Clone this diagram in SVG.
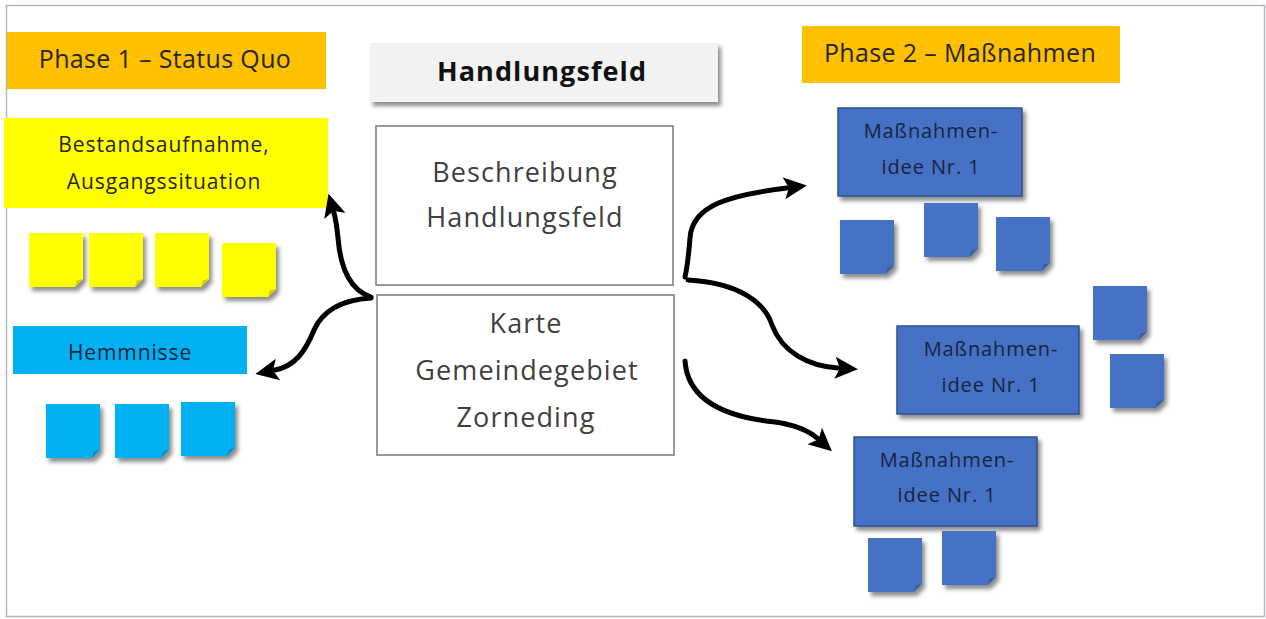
<svg xmlns="http://www.w3.org/2000/svg" width="1266" height="619" viewBox="0 0 1266 619">
<style>
text{font-family:"Open Sans","Liberation Sans",sans-serif;text-anchor:middle}
.phase{fill:#FFC000}
.phase-t{font-size:25px;fill:#262626;letter-spacing:0.35px}
.sy{fill:#FFFF00}
.sc{fill:#00B0F0}
.sb{fill:#4472C4}
.fd{fill:#000;fill-opacity:0.18}
.wbox{fill:#fff;stroke:#808080;stroke-width:1.6}
.wt{font-size:27px;fill:#404040;letter-spacing:1.1px}
.mbox{fill:#4472C4;stroke:#2F528F;stroke-width:1.5}
.mt{font-size:20px;fill:#1a2340;letter-spacing:0.9px}
.st-t{font-size:21px;fill:#262626;letter-spacing:0.9px}
.conn{fill:none;stroke:#000;stroke-width:5;stroke-linecap:round;stroke-linejoin:round}
</style>
<defs>
<filter id="sh" x="-20%" y="-20%" width="150%" height="160%">
<feDropShadow dx="3" dy="4" stdDeviation="2" flood-color="#000" flood-opacity="0.45"/>
</filter>
<marker id="ah" markerUnits="userSpaceOnUse" markerWidth="24" markerHeight="24" viewBox="0 0 24 24" refX="3" refY="12" orient="auto">
<path d="M0 1L23 12L0 23L5 12Z" fill="#000"/>
</marker>
<path id="st" d="M0 0H54V46L46 54H0Z"/>
<path id="fold" d="M54 46L46 54L47.5 47.5Z"/>
</defs>
<rect x="6.5" y="5.5" width="1258" height="611" fill="#fff" stroke="#AEB6C2" stroke-width="1.5"/>

<g id="phase1">
<rect class="phase" x="7" y="32" width="319" height="57"/>
<text class="phase-t" x="165" y="68">Phase 1 – Status Quo</text>
</g>

<g id="bestand">
<rect class="sy" x="4" y="118" width="324" height="90"/>
<text class="st-t" x="164" y="152">Bestandsaufnahme,</text>
<text class="st-t" x="164" y="189">Ausgangssituation</text>
</g>

<g id="yellow-notes" class="sy" filter="url(#sh)">
<g id="y1"><use href="#st" x="29" y="233"/><use href="#fold" class="fd" x="29" y="233"/></g>
<g id="y2"><use href="#st" x="89" y="233"/><use href="#fold" class="fd" x="89" y="233"/></g>
<g id="y3"><use href="#st" x="155" y="233"/><use href="#fold" class="fd" x="155" y="233"/></g>
<g id="y4"><use href="#st" x="222" y="243"/><use href="#fold" class="fd" x="222" y="243"/></g>
</g>

<g id="hemmnisse">
<rect class="sc" x="13" y="326" width="234" height="48"/>
<text class="st-t" x="130" y="360" style="fill:#10243E">Hemmnisse</text>
</g>

<g id="cyan-notes" class="sc" filter="url(#sh)">
<g id="c1"><use href="#st" x="46" y="404"/><use href="#fold" class="fd" x="46" y="404"/></g>
<g id="c2"><use href="#st" x="115" y="404"/><use href="#fold" class="fd" x="115" y="404"/></g>
<g id="c3"><use href="#st" x="181" y="402"/><use href="#fold" class="fd" x="181" y="402"/></g>
</g>

<g id="header">
<rect x="370" y="43" width="348" height="59" fill="#F2F2F2" filter="url(#sh)"/>
<text x="542" y="81" style="font-size:27px;font-weight:bold;fill:#111;letter-spacing:1.1px">Handlungsfeld</text>
</g>

<g id="beschreibung">
<rect class="wbox" x="376" y="126" width="297" height="159"/>
<text class="wt" x="525" y="182">Beschreibung</text>
<text class="wt" x="525" y="227">Handlungsfeld</text>
</g>

<g id="karte">
<rect class="wbox" x="377" y="295" width="297" height="160"/>
<text class="wt" x="526" y="333">Karte</text>
<text class="wt" x="527" y="380">Gemeindegebiet</text>
<text class="wt" x="526" y="427">Zorneding</text>
</g>

<g id="phase2">
<rect class="phase" x="802" y="26" width="318" height="57"/>
<text class="phase-t" x="960" y="62">Phase 2 – Maßnahmen</text>
</g>

<g id="massnahme1">
<rect class="mbox" x="838" y="108" width="184" height="88" filter="url(#sh)"/>
<text class="mt" x="931" y="138">Maßnahmen-</text>
<text class="mt" x="931" y="174">idee Nr. 1</text>
</g>

<g id="massnahme2">
<rect class="mbox" x="897" y="326" width="182" height="88" filter="url(#sh)"/>
<text class="mt" x="991" y="356">Maßnahmen-</text>
<text class="mt" x="991" y="392">idee Nr. 1</text>
</g>

<g id="massnahme3">
<rect class="mbox" x="854" y="437" width="183" height="89" filter="url(#sh)"/>
<text class="mt" x="947" y="467">Maßnahmen-</text>
<text class="mt" x="947" y="502">idee Nr. 1</text>
</g>

<g id="blue-notes" class="sb" filter="url(#sh)">
<g id="b1"><use href="#st" x="840" y="220"/><use href="#fold" class="fd" x="840" y="220"/></g>
<g id="b2"><use href="#st" x="924" y="203"/><use href="#fold" class="fd" x="924" y="203"/></g>
<g id="b3"><use href="#st" x="996" y="217"/><use href="#fold" class="fd" x="996" y="217"/></g>
<g id="b4"><use href="#st" x="1093" y="286"/><use href="#fold" class="fd" x="1093" y="286"/></g>
<g id="b5"><use href="#st" x="1110" y="354"/><use href="#fold" class="fd" x="1110" y="354"/></g>
<g id="b6"><use href="#st" x="868" y="538"/><use href="#fold" class="fd" x="868" y="538"/></g>
<g id="b7"><use href="#st" x="942" y="531"/><use href="#fold" class="fd" x="942" y="531"/></g>
</g>

<g id="connectors">
<path class="conn" marker-end="url(#ah)" d="M371 297C347 289 340 263 338 238C337 228 336 220 334 213"/>
<path class="conn" marker-end="url(#ah)" d="M371 298C340 300 322 312 314 330C305 352 295 366 275 370"/>
<path class="conn" marker-end="url(#ah)" d="M685 277C688 264 689 250 690 238C692 205 730 195 787 188"/>
<path class="conn" marker-end="url(#ah)" d="M688 280C740 283 765 303 772 325C782 352 808 366 838 368"/>
<path class="conn" marker-end="url(#ah)" d="M685 361C688 405 735 418 775 422C795 425 808 430 817 438"/>
</g>
</svg>
